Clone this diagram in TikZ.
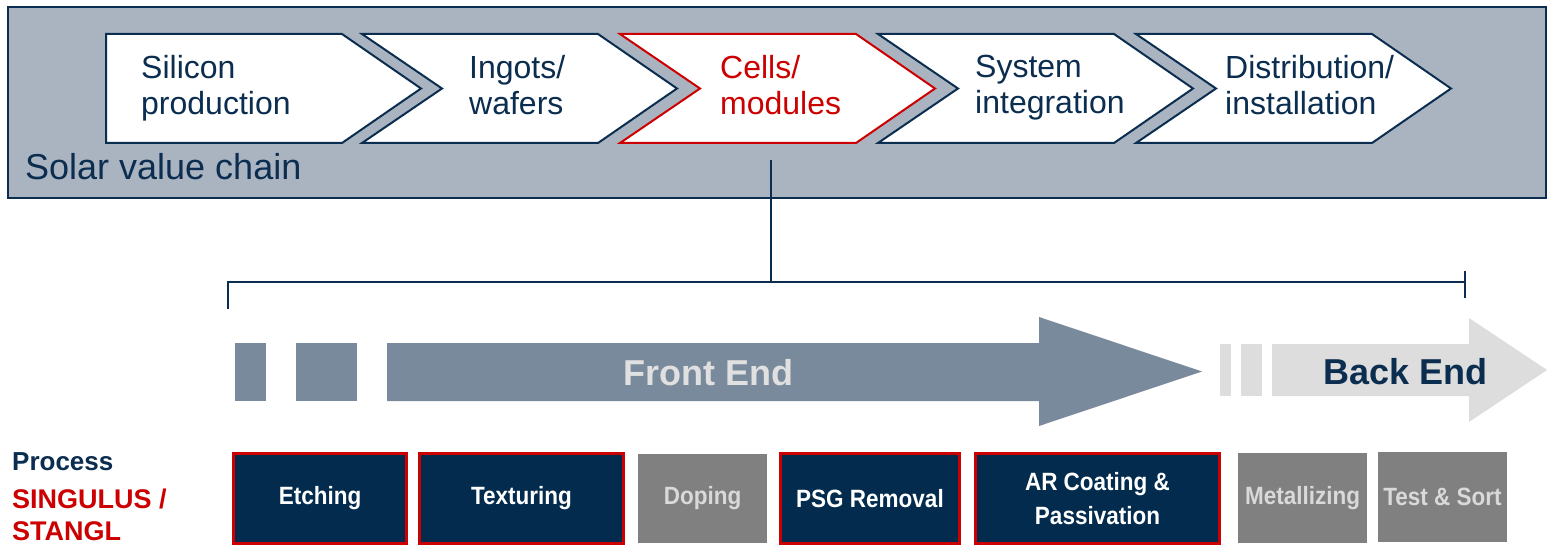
\documentclass[tikz,border=0pt]{standalone}
\usepackage{fontspec}
\setmainfont{Liberation Sans}
\newfontfamily\condfont{Liberation Sans}[FakeStretch=0.9]
\definecolor{panelfill}{HTML}{AAB4C1}
\definecolor{navy}{HTML}{0B2D4F}
\definecolor{boxnavy}{HTML}{022B4D}
\definecolor{redc}{HTML}{CC0000}
\definecolor{frontc}{HTML}{798A9C}
\definecolor{frontt}{HTML}{E0E0E0}
\definecolor{backc}{HTML}{DDDDDD}
\definecolor{grayb}{HTML}{808080}
\definecolor{grayt}{HTML}{D9D9D9}
\tikzset{
  chev/.style={draw=navy, fill=white, line width=2pt, line join=miter},
  chevred/.style={draw=redc, fill=white, line width=2pt, line join=miter},
  chevtext/.style={anchor=north west, inner sep=0pt, align=left, text=navy,
    font=\fontsize{32}{36}\selectfont},
  procbox/.style={draw=redc, line width=3pt, fill=boxnavy, text=white, inner sep=0pt,
    align=center, font=\condfont\bfseries\fontsize{25}{34}\selectfont},
  graybox/.style={fill=grayb, text=grayt, inner sep=0pt, align=center,
    font=\condfont\bfseries\fontsize{25}{34}\selectfont},
  bracket/.style={draw=navy, line width=2pt},
}
\begin{document}
\begin{tikzpicture}[x=1pt,y=-1pt]
\useasboundingbox (0,0) rectangle (1547,545);
\fill[white] (0,0) rectangle (1547,545);
% top panel
\draw[fill=panelfill, draw=navy, line width=2pt] (8,7) rectangle (1546,198);
% chevrons
\draw[chev] (106,34) -- (342,34) -- (421,88.5) -- (342,143) -- (106,143) -- cycle;
\draw[chev] (362,34) -- (598,34) -- (677,88.5) -- (598,143) -- (362,143) -- (442,88.5) -- cycle;
\draw[chevred] (620,34) -- (856,34) -- (935,88.5) -- (856,143) -- (620,143) -- (700,88.5) -- cycle;
\draw[chev] (878,34) -- (1114,34) -- (1193,88.5) -- (1114,143) -- (878,143) -- (958,88.5) -- cycle;
\draw[chev] (1136,34) -- (1372,34) -- (1451,88.5) -- (1372,143) -- (1136,143) -- (1216,88.5) -- cycle;
\node[chevtext] (silicon) at (141,55) {Silicon\\production};
\node[chevtext] (ingots) at (469,55) {Ingots/\\wafers};
\node[chevtext, text=redc] (cells) at (720,55) {Cells/\\modules};
\node[chevtext] (system) at (975,55) {System\\integration};
\node[chevtext] (distr) at (1225,55) {Distribution/\\installation};
\node[anchor=base west, inner sep=0pt, text=navy, font=\fontsize{36}{40}\selectfont] (chain) at (25,180) {Solar value chain};
% connector and bracket
\coordinate (cellsb) at (771,160);
\coordinate (bm) at (771,282);
\coordinate (bl) at (228,282);
\coordinate (blb) at (228,309);
\coordinate (br) at (1465,282);
\coordinate (brt) at (1465,271);
\coordinate (brb) at (1465,298);
\draw[bracket] (cellsb) -- (bm);
\draw[bracket] (blb) -- (bl) -- (br);
\draw[bracket] (brt) -- (brb);
% front end arrow
\fill[frontc] (235,343) rectangle (266,401);
\fill[frontc] (296,343) rectangle (357,401);
\fill[frontc] (387,343) -- (1039,343) -- (1039,317) -- (1202,371.5) -- (1039,426) -- (1039,401) -- (387,401) -- cycle;
\node[anchor=base west, inner sep=0pt, text=frontt, font=\bfseries\fontsize{36}{40}\selectfont] (front) at (623,385) {Front End};
% back end arrow
\fill[backc] (1220,344) rectangle (1231,396);
\fill[backc] (1241,344) rectangle (1262,396);
\fill[backc] (1272,344) -- (1469,344) -- (1469,318) -- (1547,370) -- (1469,422) -- (1469,396) -- (1272,396) -- cycle;
\node[anchor=base west, inner sep=0pt, text=navy, font=\bfseries\fontsize{36}{40}\selectfont] (back) at (1323,384) {Back End};
% process labels
\node[anchor=base west, inner sep=0pt, text=navy, font=\bfseries\fontsize{26}{30}\selectfont] (process) at (12,470) {Process};
\node[anchor=base west, inner sep=0pt, text=redc, font=\bfseries\fontsize{27}{30}\selectfont] (sing) at (12,508) {SINGULUS /};
\node[anchor=base west, inner sep=0pt, text=redc, font=\bfseries\fontsize{27}{30}\selectfont] (stangl) at (12,540) {STANGL};
% process boxes
\node[procbox, minimum width=173pt, minimum height=90pt] (etch) at (320,498.5) {Etching};
\node[procbox, minimum width=204pt, minimum height=90pt] (text) at (521.5,498.5) {Texturing};
\node[graybox, minimum width=129pt, minimum height=89pt] (dop) at (702.5,498.5) {Doping};
\node[procbox, minimum width=179pt, minimum height=90pt] (psg) at (870,498.5) {PSG Removal};
\node[procbox, minimum width=244pt, minimum height=90pt] (arc) at (1097.5,498.5) {AR Coating \&\\Passivation};
\node[graybox, minimum width=129pt, minimum height=90pt] (met) at (1302.5,498) {Metallizing};
\node[graybox, minimum width=129pt, minimum height=90pt] (test) at (1442.5,497) {Test \& Sort};
\end{tikzpicture}
\end{document}
